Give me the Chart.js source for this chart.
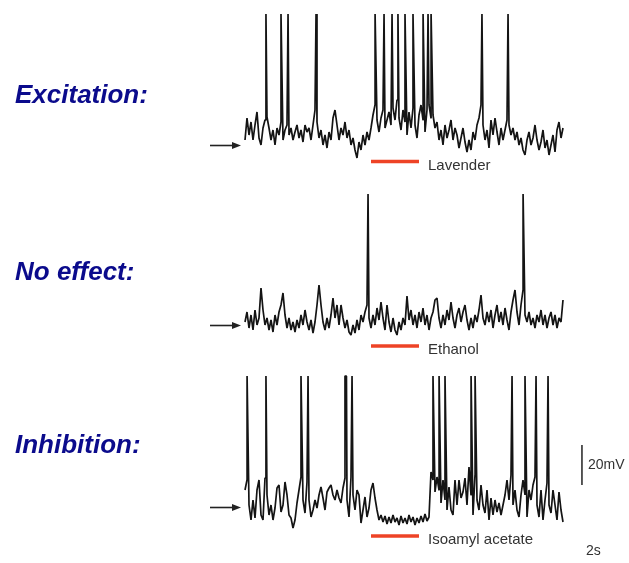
<!DOCTYPE html>
<html>
<head>
<meta charset="utf-8">
<script src="https://cdn.jsdelivr.net/npm/chart.js@4/dist/chart.umd.min.js"></script>
<style>
  html, body { margin: 0; padding: 0; background: #fff; overflow: hidden; }
  canvas { display: block; }
</style>
</head>
<body>
<canvas id="traces" width="629" height="563"></canvas>
<script>
// membrane potential relative to the resting level (arrow), mV, one sample every 0.125 s
const SAMPLE_DT = 0.125;
const SPIKE_PEAK = 65.5;

const excitationTrace = [
  2.5, 13.5, 5, 11.5, 2.5, 10, 16.5, 3.5, 0, 8.5, 12.5, 14, 8.5, 2.5, 7.5, 0, 8.5, 5, 11.5, 2.5,
  7.5, 10, 5, 8.5, 2.5, 6.5, 10, 3.5, 7.5, 1.5, 10, 6.5, 8.5, 2.5, 10, 17.5, 11.5, 3.5, 7.5, 0,
  5, -1.5, 6.5, 2.5, 13.5, 17.5, 10, 2.5, 8.5, 5, 11.5, 3.5, 7.5, 0, 3.5, -2.5, -6.5, 1.5, -2.5, 5,
  0, 6.5, 2.5, 8.5, 15, 20, 12.5, 6.5, 13.5, 17.5, 8.5, 12.5, 16.5, 10, 18.5, 12.5, 22.5, 13.5, 7.5, 17.5,
  11.5, 5, 16.5, 8.5, 18.5, 10, 3.5, 15, 20, 12.5, 6.5, 17.5, 20, 13.5, 15, 8.5, 11.5, 2.5, 7.5, 0,
  10, 3.5, 7.5, 12.5, 2.5, 8.5, 5, -1.5, 3.5, 8.5, 1.5, -3.5, 2.5, -2.5, 6.5, 2.5, 10, 13.5, 20, 10,
  2.5, 7.5, -1.5, 12.5, 5, 13.5, 6.5, 0, 8.5, 2.5, 7.5, 12.5, 10, 5, 8.5, 2.5, 6.5, 0, 3.5, -2.5,
  -5, 2.5, 6.5, 0, 3.5, 10, 2.5, -2.5, 1.5, 7.5, -1.5, 2.5, -5, 0, 5, -3.5, 7.5, 11.5, 3.5, 8.5
];
const noEffectTrace = [
  1.5, 6.5, -1.5, 5, -2.5, 7.5, 0, 3.5, 18.5, 7.5, 0, 3.5, -2.5, 2.5, -3.5, 5, 0, 6.5, 10, 16,
  5, -1.5, 3.5, -2.5, 1.5, -3.5, 2.5, -1.5, 5, 0, 7.5, 1.5, -2.5, 2.5, -4, 1.5, 10, 20, 10, 1.5,
  -2.5, 3.5, -1.5, 5, 13.5, 3.5, 10, 0, 10, 3.5, -1.5, 2.5, -3.5, -5, 0, -4, 2.5, -2.5, 5, 1.5,
  6.5, 10, 3.5, -1.5, 5, 0, 8.5, 2.5, 11.5, 3.5, -2.5, 10, 1.5, -3.5, 3.5, -2.5, -5, 1.5, -2.5, 3.5,
  0, 14.5, 2.5, 7.5, 0, 5, -1.5, 6.5, 1.5, 8.5, 0, 5, -2.5, 3.5, 6.5, 12.5, 13.5, 3.5, -1.5, 5,
  0, 7.5, 2.5, 11.5, 3.5, -1.5, 5, 8.5, 1.5, 6.5, 10, 2.5, -2.5, 3.5, -1.5, 5, 1.5, 7.5, 15, 3.5,
  0, 6.5, 1.5, 7.5, -1.5, 5, 10, 1.5, 6.5, 0, 8.5, 2.5, -2.5, 6.5, 12.5, 17.5, 6.5, 0, 10, 17.5,
  5, 1.5, 6.5, 0, 3.5, -1.5, 5, 1.5, 7.5, 0, 5, -1.5, 3.5, 6.5, 0, 5, -1.5, 3.5, 1.5, 12.5
];
const inhibitionTrace = [
  8.5, 13.5, 1, -6.5, 3.5, -5.5, 8.5, 13.5, -4, -6.5, 14.5, 6, -4, 1, -6.5, -0.5, 9.5, 11, -2.5, 1,
  12.5, 6, -4, -5.5, -10.5, -6.5, 2, 8.5, 15, 3.5, -3, 12.5, 3.5, -5, -1.5, 3.5, -0.5, 6, 10, 4.5,
  -1.5, 7.5, 9.5, 11, 6, 3.5, 8.5, 4.5, 2, 9.5, 14.5, 3.5, -5, 15, 6, -1.5, 8.5, 6, -8, -1.5,
  5, -5, -0.5, 8.5, 12, 4.5, -1.5, -6.5, -4, -7.5, -4.5, -8.5, -5, -8, -4, -7.5, -5.5, -9, -4.5, -8,
  -5.5, -8.5, -4, -7.5, -5, -9, -5.5, -8, -4.5, -7.5, -3.5, -7, -5, 17.5, 13.5, 7.5, 15, 8.5, 2, 13.5,
  3.5, -1.5, 10, -1.5, -4, 13.5, 1, 13.5, 4.5, 7.5, 14.5, 1, 20, 6, -4, 16, 3.5, -1.5, 11, 1,
  -3, 8.5, -6.5, 4.5, -4, 3.5, -2.5, 2, -4, 1, 6, 13.5, 3.5, 16, 1, 8.5, -1.5, -5, 6, 13.5,
  6, -5, 8.5, 3.5, 11, 15, 1, -5, 8.5, -6.5, 3.5, 12, 1, -3, 8.5, 1, -6.5, 7.5, -1.5, -7.5
];

// spike times, s
const excitationSpikes = [1.31, 2.25, 2.69, 4.44, 8.13, 8.69, 9.19, 9.56, 10.0, 10.5, 11.13, 11.44, 11.63, 14.81, 16.44];
const noEffectSpikes = [7.69, 17.38];
const inhibitionSpikes = [0.13, 1.31, 3.5, 3.94, 6.25, 6.34, 6.69, 11.75, 12.13, 12.5, 14.13, 14.38, 16.69, 17.5, 18.19, 18.94];

// odour application, s
const stimOn = 7.875;
const stimOff = 10.875;

const rowLabels = ['Excitation:', 'No effect:', 'Inhibition:'];
const odourLabels = ['Lavender', 'Ethanol', 'Isoamyl acetate'];
const scaleLabels = ['20mV', '2s'];

function buildTrace(samples, spikes) {
  const pts = samples.map((v, i) => ({ x: i * SAMPLE_DT, y: v }));
  spikes.forEach(t => pts.push({ x: t, y: SPIKE_PEAK }));
  return pts.sort((a, b) => a.x - b.x);
}

const traceStyle = {
  borderColor: '#141414', borderWidth: 1.7, borderJoinStyle: 'bevel',
  pointRadius: 0, tension: 0, fill: false
};
const stimStyle = { borderColor: '#ee4326', borderWidth: 3.5, pointRadius: 0, fill: false };

// where the red bar sits under each trace, mV
const stimLevel = [-8.3, -10.5, -14.5];

const overlay = {
  id: 'overlay',
  afterDraw(chart) {
    const ctx = chart.ctx;
    const x = chart.scales.x;
    const axes = ['y1', 'y2', 'y3'].map(k => chart.scales[k]);
    ctx.save();

    // row titles
    ctx.fillStyle = '#0b0b8c';
    ctx.font = 'italic bold 26px "Liberation Sans", Arial, sans-serif';
    ctx.textBaseline = 'alphabetic';
    const titleBase = [103, 280, 453];
    rowLabels.forEach((t, i) => ctx.fillText(t, 15, titleBase[i]));

    // resting-level arrows
    ctx.strokeStyle = '#222';
    ctx.fillStyle = '#222';
    ctx.lineWidth = 1.6;
    axes.forEach(ax => {
      const y = Math.round(ax.getPixelForValue(0)) + 0.5;
      ctx.beginPath();
      ctx.moveTo(210, y);
      ctx.lineTo(234, y);
      ctx.stroke();
      ctx.beginPath();
      ctx.moveTo(241, y);
      ctx.lineTo(232, y - 3.5);
      ctx.lineTo(232, y + 3.5);
      ctx.closePath();
      ctx.fill();
    });

    // odour names
    ctx.fillStyle = '#333';
    ctx.font = '15px "Liberation Sans", Arial, sans-serif';
    ctx.textBaseline = 'middle';
    odourLabels.forEach((t, i) => {
      ctx.fillText(t, x.getPixelForValue(stimOff) + 9, axes[i].getPixelForValue(stimLevel[i]) + 4);
    });

    // scale bar labels
    ctx.font = '14px "Liberation Sans", Arial, sans-serif';
    ctx.fillText(scaleLabels[0], 588, axes[2].getPixelForValue(21));
    ctx.fillText(scaleLabels[1], 586, 551);
    ctx.restore();
  }
};

new Chart(document.getElementById('traces'), {
  type: 'line',
  data: {
    datasets: [
      { ...traceStyle, data: buildTrace(excitationTrace, excitationSpikes), yAxisID: 'y1' },
      { ...traceStyle, data: buildTrace(noEffectTrace, noEffectSpikes), yAxisID: 'y2' },
      { ...traceStyle, data: buildTrace(inhibitionTrace, inhibitionSpikes), yAxisID: 'y3' },
      { ...stimStyle, data: [{ x: stimOn, y: stimLevel[0] }, { x: stimOff, y: stimLevel[0] }], yAxisID: 'y1' },
      { ...stimStyle, data: [{ x: stimOn, y: stimLevel[1] }, { x: stimOff, y: stimLevel[1] }], yAxisID: 'y2' },
      { ...stimStyle, data: [{ x: stimOn, y: stimLevel[2] }, { x: stimOff, y: stimLevel[2] }], yAxisID: 'y3' },
      // 20 mV scale bar
      { borderColor: '#222', borderWidth: 1.5, pointRadius: 0, data: [{ x: 21.06, y: 11 }, { x: 21.06, y: 31 }], yAxisID: 'y3' }
    ]
  },
  options: {
    responsive: false,
    animation: false,
    layout: { padding: 0 },
    plugins: { legend: { display: false }, tooltip: { enabled: false } },
    scales: {
      x: { type: 'linear', display: false, min: -15.3125, max: 24 },
      y1: { display: false, min: -209, max: 72.5 },
      y2: { display: false, min: -119, max: 162.5 },
      y3: { display: false, min: -28, max: 253.5 }
    }
  },
  plugins: [overlay]
});
</script>
</body>
</html>
